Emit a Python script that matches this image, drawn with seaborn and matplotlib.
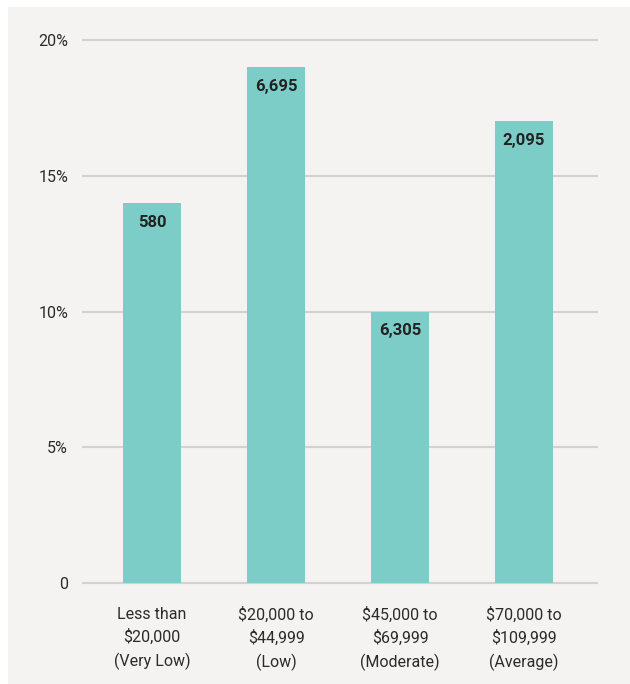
import matplotlib
matplotlib.use("Agg")
import matplotlib.pyplot as plt
import seaborn as sns
import pandas as pd
from matplotlib.patches import Rectangle

categories = ["Less than\n$20,000\n(Very Low)", "$20,000 to\n$44,999\n(Low)",
              "$45,000 to\n$69,999\n(Moderate)", "$70,000 to\n$109,999\n(Average)"]
percent = [14, 19, 10, 17]
counts = ["580", "6,695", "6,305", "2,095"]
yticks = [0, 5, 10, 15, 20]
ytick_labels = ["0", "5%", "10%", "15%", "20%"]

sns.set_theme(style="white")
fam = ['Liberation Sans Narrow', 'Roboto', 'DejaVu Sans']
plt.rcParams['font.family'] = fam

W, H = 630, 684
fig = plt.figure(figsize=(W/100, H/100), dpi=100)
fig.patch.set_facecolor("#f4f3f2")
# white margins on left and top
fig.patches.append(Rectangle((0, 0), 8/W, 1, transform=fig.transFigure,
                             facecolor="white", edgecolor="none"))
fig.patches.append(Rectangle((0, 1 - 7/H), 1, 7/H, transform=fig.transFigure,
                             facecolor="white", edgecolor="none"))

ppu = (583 - 40) / 20.0
ylo, yhi = -0.1, 20.1
bottom_px = 583 + 0.1 * ppu
top_px = 40 - 0.1 * ppu
ax = fig.add_axes([82/W, 1 - bottom_px/H, (598-82)/W, (bottom_px - top_px)/H])
ax.set_facecolor("none")

df = pd.DataFrame({"cat": categories, "pct": percent})
sns.barplot(data=df, x="cat", y="pct", color="#7ccdc8", saturation=1, width=0.468,
            linewidth=0, edgecolor="none", ax=ax, zorder=3)

ax.set_xlim(-0.565, 3.597)
ax.set_ylim(ylo, yhi)
ax.set_yticks(yticks)
ax.set_yticklabels(ytick_labels)
for y in yticks:
    ax.axhline(y, color="#d2d2d2", lw=1.5, zorder=1)
for s in ax.spines.values():
    s.set_visible(False)
ax.set_xlabel("")
ax.set_ylabel("")
ax.tick_params(axis="y", length=0, pad=10, labelsize=11.5, labelcolor="#2b2b2b")
ax.tick_params(axis="x", length=0, pad=15, labelsize=11.5, labelcolor="#2b2b2b")
for lab in ax.get_xticklabels():
    lab.set_linespacing(1.55)

for i, (p, c) in enumerate(zip(percent, counts)):
    ax.annotate(c, (i, p), xytext=(0, -14), textcoords="offset points",
                ha="center", va="center", fontsize=12, fontweight="bold",
                color="#222222", zorder=5)

fig.savefig("out.png", dpi=100, facecolor=fig.get_facecolor())
